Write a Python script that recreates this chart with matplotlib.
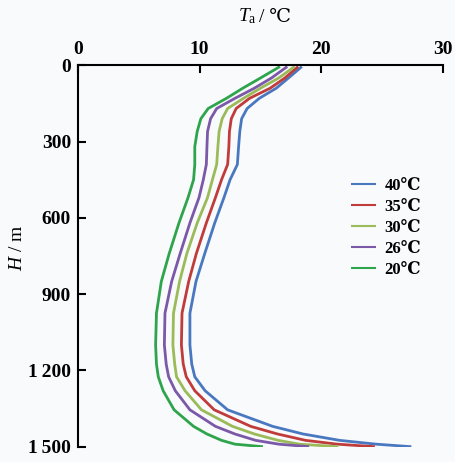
import numpy as np
import matplotlib.pyplot as plt

plt.rcParams['font.family'] = ['Liberation Serif', 'DejaVu Serif', 'DejaVu Sans']
plt.rcParams['mathtext.fontset'] = 'custom'
plt.rcParams['mathtext.rm'] = 'Liberation Serif'
plt.rcParams['mathtext.it'] = 'Liberation Serif:italic'

# depth (m) and temperature (C)
depth = [5, 50, 90, 130, 170, 210, 260, 320, 390, 450, 520, 620, 740, 850,
         975, 1100, 1175, 1225, 1280, 1355, 1420, 1450, 1475, 1490, 1500]
t40 = [18.4, 17.3, 16.3, 14.9, 13.9, 13.45, 13.3, 13.2, 13.1, 12.5, 12.0, 11.24, 10.42, 9.7,
       9.2, 9.2, 9.35, 9.6, 10.45, 12.3, 16.0, 18.5, 21.5, 24.5, 27.4]
t35 = [18.1, 17.0, 15.8, 14.1, 13.0, 12.6, 12.45, 12.4, 12.3, 11.8, 11.3, 10.55, 9.73, 9.1,
       8.55, 8.5, 8.65, 8.9, 9.6, 11.2, 14.2, 16.4, 18.7, 21.3, 24.4]
t30 = [17.8, 16.5, 15.0, 13.6, 12.3, 11.85, 11.6, 11.5, 11.4, 11.05, 10.65, 9.8, 8.95, 8.35,
       7.85, 7.8, 7.95, 8.1, 8.8, 10.15, 12.7, 14.5, 16.45, 18.2, 21.4]
t26 = [17.2, 15.9, 14.5, 12.9, 11.4, 10.9, 10.65, 10.6, 10.55, 10.3, 9.95, 9.2, 8.4, 7.7,
       7.15, 7.1, 7.25, 7.45, 8.0, 9.2, 11.3, 12.9, 14.6, 16.5, 19.0]
t20 = [16.6, 15.0, 13.55, 12.2, 10.7, 10.1, 9.8, 9.6, 9.6, 9.5, 9.05, 8.3, 7.5, 6.85,
       6.45, 6.38, 6.45, 6.6, 7.0, 7.9, 9.5, 10.6, 11.8, 12.9, 15.2]

series = [t40, t35, t30, t26, t20]
labels = ['40℃', '35℃', '30℃', '26℃', '20℃']
colors = ['#4a78c0', '#c03c3a', '#9bbb59', '#7b58a8', '#2ea44c']

W, H = 456, 462
fig = plt.figure(figsize=(W / 100, H / 100), dpi=100, facecolor='#f8fafc')
ax = fig.add_axes([0.171, 0.0331, 0.8005, 0.8256])
ax.set_facecolor('#f8fafc')

for t, lab, c in zip(series, labels, colors):
    ax.plot(t, depth, color=c, lw=2.0, label=lab, solid_capstyle='butt')

ax.set_xlim(0, 30)
ax.set_ylim(1500, 0)
ax.xaxis.tick_top()
ax.set_xticks([0, 10, 20, 30])
ax.set_yticks([0, 300, 600, 900, 1200, 1500])
ax.set_yticklabels(['0', '300', '600', '900', '1\u2009200', '1\u2009500'])

for s in ['right', 'bottom']:
    ax.spines[s].set_visible(False)
for s in ['left', 'top']:
    ax.spines[s].set_linewidth(1.5)

ax.tick_params(direction='in', length=6, width=1.5, labelsize=14, pad=5)
for lbl in ax.get_xticklabels() + ax.get_yticklabels():
    lbl.set_fontweight('bold')

# x label: T_a / ℃ (split so the ℃ sign comes from a font that has it)
base = 1 - 21.5 / H
fig.text(257 / W, base, r'$T_\mathrm{a}$', fontsize=14, ha='right', va='baseline')
fig.text(259 / W, base, '/ ℃', fontsize=14, ha='left', va='baseline')

ax.set_ylabel(r'$H$ / m', fontsize=14)
ax.yaxis.set_label_coords(-0.142, 0.521)

leg = ax.legend(loc='upper left', bbox_to_anchor=(0.748, 0.705), frameon=False,
                handlelength=1.5, handletextpad=0.5, labelspacing=0.3,
                borderpad=0, borderaxespad=0, prop={'size': 12, 'weight': 'bold'})
for line in leg.get_lines():
    line.set_linewidth(1.5)

fig.savefig('out.png', dpi=100, facecolor=fig.get_facecolor())
